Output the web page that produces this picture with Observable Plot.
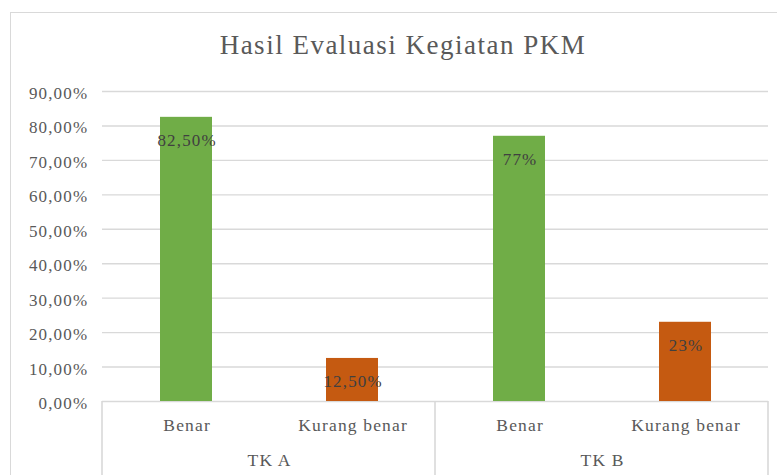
<!DOCTYPE html>
<html><head><meta charset="utf-8">
<script src="https://cdn.jsdelivr.net/npm/d3@7"></script>
<script src="https://cdn.jsdelivr.net/npm/@observablehq/plot@0.6"></script>
<style>
html,body{margin:0;padding:0;background:#fff;overflow:hidden;width:777px;height:475px;}
#wrap{position:relative;width:777px;height:475px;overflow:hidden;}
#chart{position:absolute;left:0;top:0;}
#chart svg, #chart svg text{font-family:"Liberation Serif","Times New Roman",serif !important;}
#chart svg text{letter-spacing:1.15px;}
#title{position:absolute;left:0;top:32px;width:806px;text-align:center;font-family:"Liberation Serif","Times New Roman",serif;font-size:27px;line-height:27px;letter-spacing:1.5px;color:#595959;white-space:nowrap;}
#border{position:absolute;left:10px;top:12px;width:800px;height:500px;border:1.5px solid #d9d9d9;box-sizing:border-box;pointer-events:none;}
</style></head>
<body>
<div id="wrap"><div id="chart"></div><div id="title">Hasil Evaluasi Kegiatan PKM</div><div id="border"></div></div>
<script>
const groups = ["TK A", "TK B"];
const categories = ["Benar", "Kurang benar"];
const valuesTKA = [0.825, 0.125];
const valuesTKB = [0.77, 0.23];
const labelsTKA = ["82,50%", "12,50%"];
const labelsTKB = ["77%", "23%"];
const yTicks = [0, 0.1, 0.2, 0.3, 0.4, 0.5, 0.6, 0.7, 0.8, 0.9];
const colors = ["#70AD47", "#C55A11"];

const seriesValues = [valuesTKA, valuesTKB];
const seriesLabels = [labelsTKA, labelsTKB];
const data = groups.flatMap((g, i) => categories.map((c, j) => ({
  group: g, category: c, value: seriesValues[i][j], label: seriesLabels[i][j]
})));

const serif = "Liberation Serif";
const fmt = d => (d * 100).toFixed(2).replace(".", ",") + "%";
const W = 777, H = 475;

const plot = Plot.plot({
  width: W, height: H,
  marginLeft: 101, marginRight: 9, marginTop: 91, marginBottom: 74,
  style: {fontFamily: serif, background: "transparent", overflow: "visible"},
  fx: {domain: groups, padding: 0},
  x: {domain: categories, paddingInner: 0.688, paddingOuter: 0.344},
  y: {domain: [0, 0.9]},
  color: {domain: categories, range: colors},
  marks: [
    Plot.ruleY(yTicks, {y: d => d, stroke: "#d9d9d9", strokeWidth: 1.4}),
    Plot.barY(data, {fx: "group", x: "category", y: "value", fill: "category"}),
    Plot.text(data, {fx: "group", x: "category", y: "value", text: "label", dy: 23.5, dx: 0.6, fill: "#404040", fontSize: 17, fontFamily: serif}),
    Plot.axisY({ticks: yTicks, tickFormat: fmt, tickSize: 0, tickPadding: 14.3, dy: 2, label: null, color: "#595959", fontSize: 17, fontFamily: serif}),
    Plot.axisX({tickSize: 0, tickPadding: 17.3, dx: 0.6, label: null, color: "#595959", fontSize: 17.5, fontFamily: serif}),
    Plot.axisFx({anchor: "bottom", tickSize: 0, tickPadding: 51.6, dx: 0.6, label: null, color: "#595959", fontSize: 17.5, fontFamily: serif})
  ]
});

document.getElementById("chart").appendChild(plot);

// group separators in the category axis area, positioned through Plot's own scales
const fx = plot.scale("fx");
const ys = plot.scale("y");
const y0 = ys.apply(0);
const xs = groups.map(g => fx.apply(g)).concat([fx.apply(groups[groups.length - 1]) + fx.bandwidth]);
d3.select(plot).append("g")
  .selectAll("line").data(xs).join("line")
  .attr("x1", d => d).attr("x2", d => d)
  .attr("y1", y0).attr("y2", H)
  .attr("stroke", "#d9d9d9").attr("stroke-width", 1.6);
</script>
</body></html>
